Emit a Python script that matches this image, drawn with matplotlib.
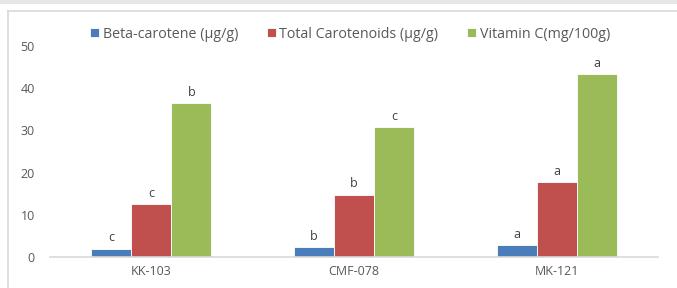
import matplotlib
matplotlib.use("Agg")
import matplotlib.pyplot as plt
import numpy as np
from matplotlib.patches import Rectangle
from matplotlib.lines import Line2D

categories = ["KK-103", "CMF-078", "MK-121"]
series_names = ["Beta-carotene (µg/g)", "Total Carotenoids (µg/g)", "Vitamin C(mg/100g)"]
beta_carotene = [2.0, 2.3, 2.8]
total_carotenoids = [12.5, 14.8, 17.7]
vitamin_c = [36.4, 30.7, 43.3]
beta_letters = ["c", "b", "a"]
total_letters = ["c", "b", "a"]
vitc_letters = ["b", "c", "a"]
yticks = [0, 10, 20, 30, 40, 50]

colors = ["#4a7ebb", "#c0504d", "#9bbb59"]

W, H = 677, 288
fig = plt.figure(figsize=(W / 100, H / 100), dpi=100)
plt.rcParams['font.family'] = ['Open Sans', 'DejaVu Sans']

# gray band at top and frame border
fig.patches.append(Rectangle((0, 1 - 4 / H), 1, 4 / H, transform=fig.transFigure,
                             facecolor="#e6e6e8", edgecolor="none", zorder=0))
fig.lines.append(Line2D([8 / W, 1], [1 - 11 / H, 1 - 11 / H], transform=fig.transFigure,
                        color="#d9d9d9", lw=1.2))
fig.lines.append(Line2D([8 / W, 8 / W], [0, 1 - 11 / H], transform=fig.transFigure,
                        color="#d9d9d9", lw=1.2))

ax = fig.add_axes([50 / W, (H - 257) / H, (658 - 50) / W, (257 - 46) / H])
x = np.arange(len(categories))
bw = 0.197
data = [beta_carotene, total_carotenoids, vitamin_c]
letters = [beta_letters, total_letters, vitc_letters]
for i, (vals, col, labs, name) in enumerate(zip(data, colors, letters, series_names)):
    pos = x + (i - 1) * bw
    ax.bar(pos, vals, width=bw, color=col, edgecolor="white", linewidth=0.6, label=name, zorder=2)
    for p, v, l in zip(pos, vals, labs):
        ax.text(p, v + 1.0, l, ha="center", va="bottom", fontsize=9, color="#404040")

ax.set_xlim(-0.5, 2.5)
ax.set_ylim(0, 50)
ax.set_yticks(yticks)
ax.set_xticks(x)
ax.set_xticklabels(categories)
for s in ["top", "right", "left"]:
    ax.spines[s].set_visible(False)
ax.spines["bottom"].set_color("#d9d9d9")
ax.spines["bottom"].set_linewidth(1.2)
ax.tick_params(axis="both", length=0, labelsize=9, colors="#595959")
ax.tick_params(axis="y", pad=11)
ax.tick_params(axis="x", pad=6)

leg = fig.legend(loc="center left", bbox_to_anchor=(84 / W, 1 - 34 / H), ncol=3, frameon=False,
                 fontsize=10.3, handlelength=0.65, handleheight=0.65, handletextpad=0.25,
                 columnspacing=2.0, borderaxespad=0)
for t in leg.get_texts():
    t.set_color("#595959")

fig.savefig("out.png", dpi=100)
